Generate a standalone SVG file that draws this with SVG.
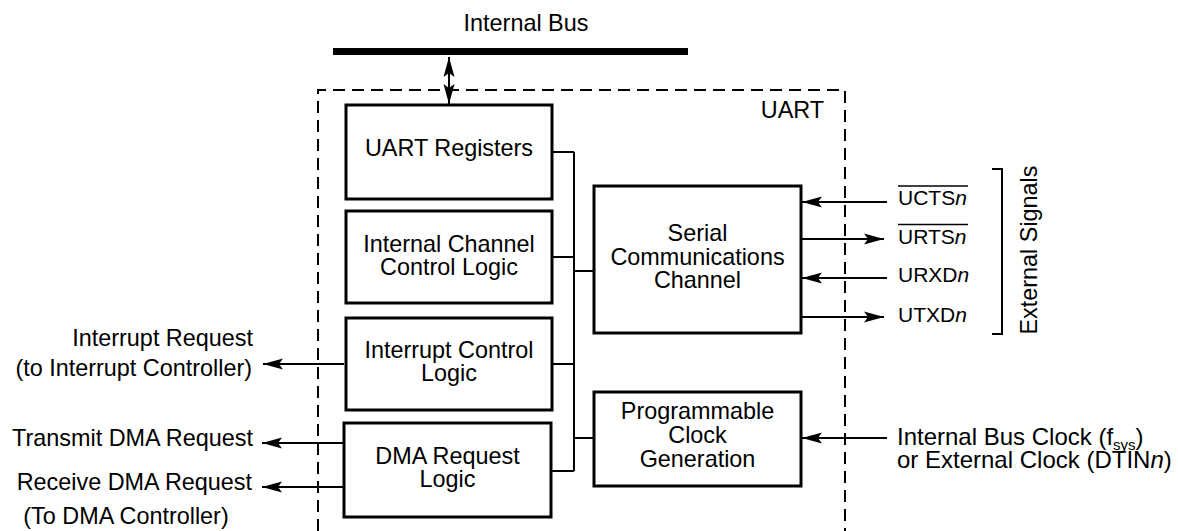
<svg xmlns="http://www.w3.org/2000/svg" width="1178" height="531" viewBox="0 0 1178 531">
<style>
text{font-family:"Liberation Sans",Arial,Helvetica,sans-serif;font-size:23.4px;fill:#000}
.c{text-anchor:middle}
.e{text-anchor:end}
.sig{font-size:21px}
.clk{font-size:24px}
.box{fill:#fff;stroke:#000;stroke-width:3}
.ln{fill:none;stroke:#000;stroke-width:2}
.ar{fill:none;stroke:#000;stroke-width:2;marker-end:url(#ah)}
.dash{fill:none;stroke:#000;stroke-width:2;stroke-dasharray:12 7}
.it{font-style:italic}
</style>
<defs>
<marker id="ah" viewBox="-21 -6 22 12" refX="0" refY="0" markerWidth="22" markerHeight="12" orient="auto-start-reverse" markerUnits="userSpaceOnUse">
<path d="M0,0 L-20,-5.5 L-16,0 L-20,5.5 z" fill="#000"/>
</marker>
</defs>

<g id="internal-bus">
<rect x="333" y="48" width="355" height="7" fill="#000"/>
<text x="526" y="31" class="c">Internal Bus</text>
</g>

<g id="uart-boundary">
<path class="dash" d="M318,531 V90 H845 V531"/>
<text x="824" y="118" class="e">UART</text>
</g>

<g id="connectors">
<line x1="449" y1="57" x2="449" y2="104" class="ln" marker-start="url(#ah)" marker-end="url(#ah)"/>
<path class="ln" d="M574,152 V471"/>
<path class="ln" d="M552,152 H574"/>
<path class="ln" d="M552,257 H574"/>
<path class="ln" d="M552,364 H574"/>
<path class="ln" d="M551,471 H574"/>
<path class="ln" d="M574,271 H594"/>
<path class="ln" d="M574,438 H594"/>
<path class="ar" d="M344,364 H263"/>
<path class="ar" d="M344,443 H262"/>
<path class="ar" d="M344,487 H262"/>
<path class="ar" d="M887,202 H802"/>
<path class="ar" d="M801,239 H884"/>
<path class="ar" d="M887,278 H802"/>
<path class="ar" d="M801,317 H884"/>
<path class="ar" d="M887,438 H802"/>
<path class="ln" d="M992,169 H1002 V334 H992"/>
</g>

<g id="uart-registers">
<rect class="box" x="346" y="105" width="206" height="94"/>
<text x="449" y="156" class="c">UART Registers</text>
</g>

<g id="internal-channel-control">
<rect class="box" x="346" y="211" width="206" height="92"/>
<text x="449" y="252" class="c">Internal Channel</text>
<text x="449" y="275" class="c">Control Logic</text>
</g>

<g id="interrupt-control">
<rect class="box" x="346" y="318" width="206" height="92"/>
<text x="449" y="358" class="c">Interrupt Control</text>
<text x="449" y="381" class="c">Logic</text>
</g>

<g id="dma-request">
<rect class="box" x="344" y="423" width="207" height="94"/>
<text x="447.5" y="464" class="c">DMA Request</text>
<text x="447.5" y="487" class="c">Logic</text>
</g>

<g id="serial-channel">
<rect class="box" x="594" y="186" width="207" height="147"/>
<text x="697.5" y="241" class="c">Serial</text>
<text x="697.5" y="264.5" class="c">Communications</text>
<text x="697.5" y="288" class="c">Channel</text>
</g>

<g id="clock-generation">
<rect class="box" x="594" y="392" width="207" height="94"/>
<text x="697.5" y="419" class="c">Programmable</text>
<text x="697.5" y="443" class="c">Clock</text>
<text x="697.5" y="467" class="c">Generation</text>
</g>

<g id="left-signals">
<text x="253" y="346" class="e">Interrupt Request</text>
<text x="252" y="376" class="e">(to Interrupt Controller)</text>
<text x="253" y="446" class="e">Transmit DMA Request</text>
<text x="252" y="490" class="e">Receive DMA Request</text>
<text x="126" y="524" class="c">(To DMA Controller)</text>
</g>

<g id="external-signals">
<text x="898" y="205" class="sig">UCTS<tspan class="it">n</tspan></text>
<line x1="898" y1="186" x2="968" y2="186" stroke="#000" stroke-width="1.5"/>
<text x="898" y="244" class="sig">URTS<tspan class="it">n</tspan></text>
<line x1="898" y1="224.5" x2="968" y2="224.5" stroke="#000" stroke-width="1.5"/>
<text x="898" y="282" class="sig">URXD<tspan class="it">n</tspan></text>
<text x="898" y="322" class="sig">UTXD<tspan class="it">n</tspan></text>
<text transform="translate(1037,250) rotate(-90)" class="c" font-size="22">External Signals</text>
</g>

<g id="clock-source">
<text x="897" y="445" class="clk">Internal Bus Clock (f<tspan font-size="15" dy="5">sys</tspan><tspan dy="-5">)</tspan></text>
<text x="897" y="468" class="clk">or External Clock (DTIN<tspan class="it">n</tspan>)</text>
</g>
</svg>
